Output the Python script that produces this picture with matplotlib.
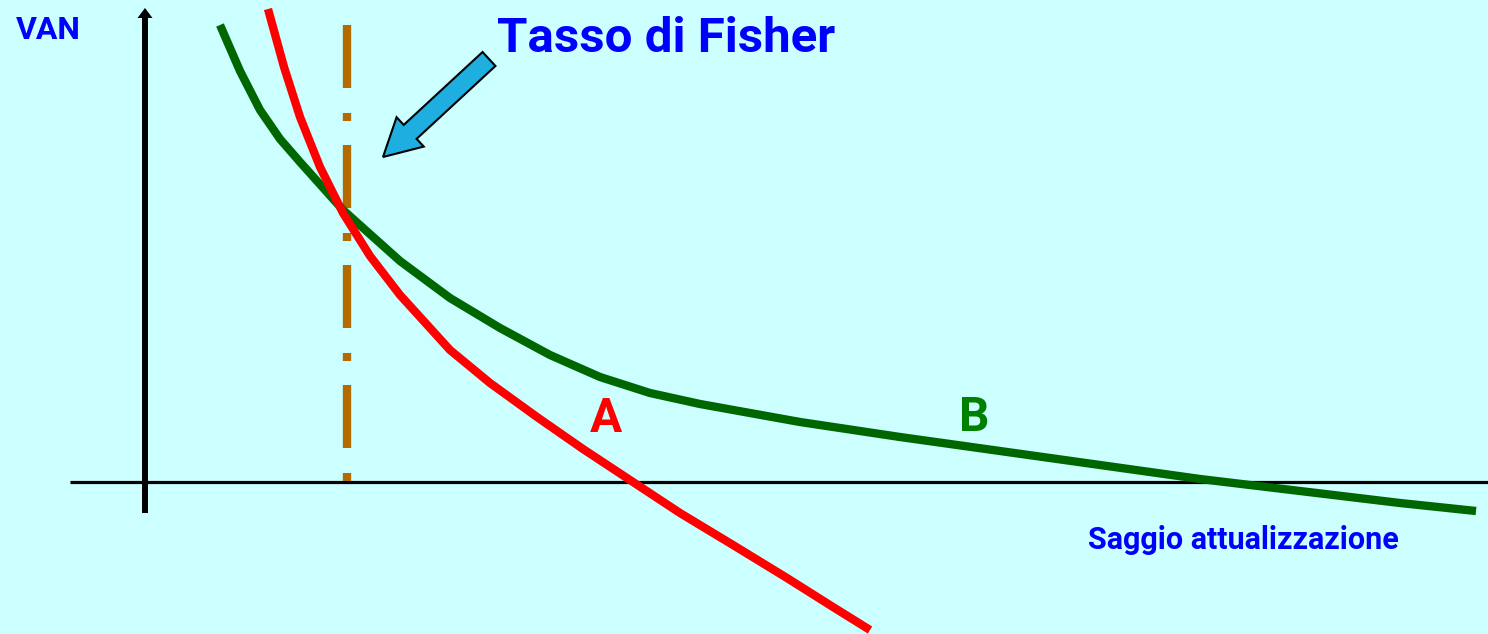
import matplotlib.pyplot as plt
from matplotlib.patches import FancyArrow

# coordinates (pixel units, y grows downward)
green_x = [220, 240, 260, 280, 300, 343, 400, 450, 500, 550, 600, 650, 700,
           800, 900, 1000, 1100, 1200, 1300, 1400, 1476]
green_y = [25, 71, 110, 139, 162, 210, 261, 298, 328, 355, 377, 393, 404,
           422, 437, 451, 465, 479, 491, 503, 511]

red_x = [268, 284, 300, 320, 343, 370, 400, 450, 490, 537, 583, 633, 680,
         733, 787, 833, 870]
red_y = [9, 67, 117, 167, 213, 256, 295, 350, 383, 417, 449, 482, 513,
         545, 578, 607, 630]

fisher_x = 347
zero_y = 482

bg = '#CCFFFF'
fig = plt.figure(figsize=(14.88, 6.34), dpi=100, facecolor=bg)
ax = fig.add_axes([0, 0, 1, 1])
ax.set_facecolor(bg)
ax.set_xlim(0, 1488)
ax.set_ylim(634, 0)
ax.axis('off')

# axes
ax.plot([70, 1488], [zero_y, zero_y], color='black', lw=2.3, solid_capstyle='butt')
ax.plot([145, 145], [513, 16], color='black', lw=4.3, solid_capstyle='butt')
ax.fill([137.5, 152.5, 145], [18, 18, 8], color='black', lw=0)

# Fisher rate line: dash 63px, gap 25, dot 8, gap 24 (in units of linewidth)
lw_f = 6
px = 0.72 / lw_f
ax.plot([fisher_x, fisher_x], [25, zero_y], color='#B36B00', lw=lw_f,
        dashes=(63 * px, 25 * px, 8 * px, 24 * px), dash_capstyle='butt')

ax.plot(green_x, green_y, color='#006600', lw=6, solid_capstyle='butt',
        solid_joinstyle='round')
ax.plot(red_x, red_y, color='#FF0000', lw=6, solid_capstyle='butt',
        solid_joinstyle='round')

# arrow pointing at the crossing
ax.add_patch(FancyArrow(489, 59, -106, 98, width=19, head_width=40, head_length=37,
                        length_includes_head=True, facecolor='#1EAEE0',
                        edgecolor='black', lw=1.5))

font = 'Roboto'
ax.text(16, 39, 'VAN', color='#0000FF', fontsize=23, fontweight='bold',
        family=font, ha='left', va='baseline')
ax.text(497, 52, 'Tasso di Fisher', color='#0000FF', fontsize=35.5, fontweight='bold',
        family=font, ha='left', va='baseline')
ax.text(606, 432, 'A', color='#FF0000', fontsize=34.5, fontweight='bold',
        family=font, ha='center', va='baseline')
ax.text(974, 431, 'B', color='#008000', fontsize=34.5, fontweight='bold',
        family=font, ha='center', va='baseline')
ax.text(1088, 549, 'Saggio attualizzazione', color='#0000FF', fontsize=22,
        fontweight='bold', family=font, ha='left', va='baseline')

plt.savefig('out.png', dpi=100, facecolor=bg)
